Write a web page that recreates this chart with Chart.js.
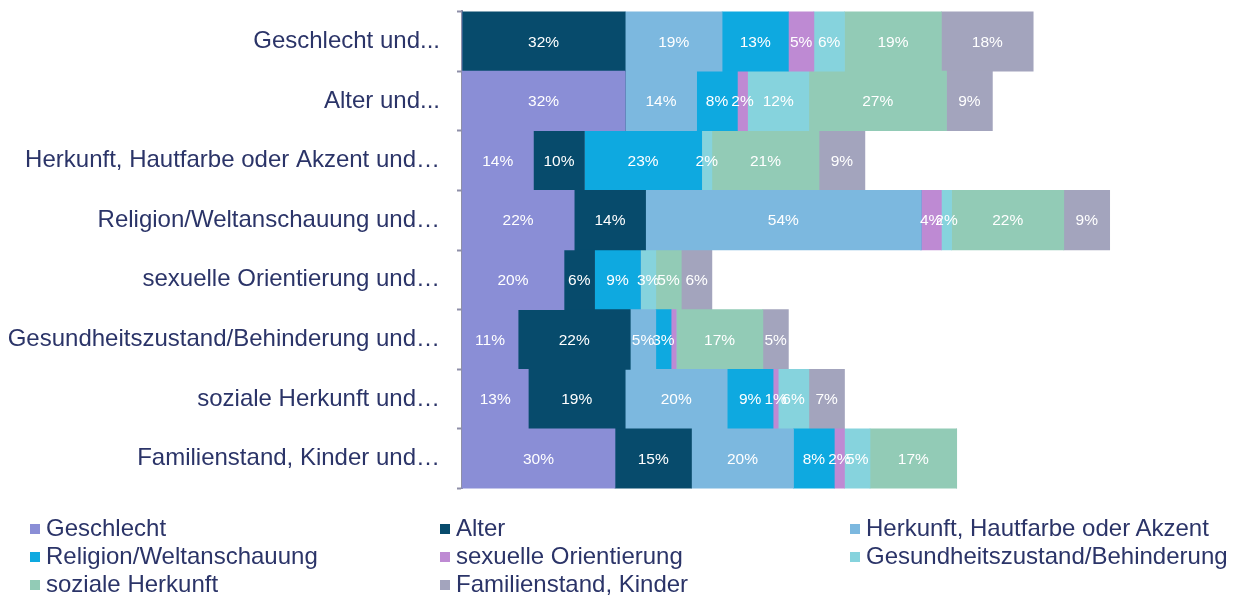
<!DOCTYPE html>
<html lang="de">
<head>
<meta charset="utf-8">
<script src="https://cdn.jsdelivr.net/npm/chart.js@4/dist/chart.umd.min.js"></script>
<style>
    html, body { margin: 0; padding: 0; background: #fff; overflow: hidden; }
    #wrap { position: relative; width: 1243px; height: 598px; overflow: hidden; }
    #box { position: absolute; left: 0; top: -20px; width: 1243px; height: 540px; }
    #legend {
        position: absolute; left: 30px; top: 514px;
        display: grid; grid-template-columns: 410px 410px 400px;
        font-family: "Liberation Sans", Arial, sans-serif; font-size: 24px;
        color: #2b3468; line-height: 28px; white-space: nowrap;
    }
    #legend span.sw { display: inline-block; width: 10px; height: 10px; margin-right: 6px; vertical-align: 2px; }
</style>
</head>
<body>
<div id="wrap">
    <div id="box"><canvas id="chart"></canvas></div>
    <div id="legend"></div>
</div>
<script>
// rows: "X und..." combinations
const categories = [
    'Geschlecht und...',
    'Alter und...',
    'Herkunft, Hautfarbe oder Akzent und…',
    'Religion/Weltanschauung und…',
    'sexuelle Orientierung und…',
    'Gesundheitszustand/Behinderung und…',
    'soziale Herkunft und…',
    'Familienstand, Kinder und…'
];

const seriesNames = [
    'Geschlecht', 'Alter', 'Herkunft, Hautfarbe oder Akzent', 'Religion/Weltanschauung',
    'sexuelle Orientierung', 'Gesundheitszustand/Behinderung', 'soziale Herkunft', 'Familienstand, Kinder'
];

// percentages per row
const geschlecht = [0, 32, 14, 22, 20, 11, 13, 30];
const alter      = [32, 0, 10, 14, 6, 22, 19, 15];
const herkunft   = [19, 14, 0, 54, 0, 5, 20, 20];
const religion   = [13, 8, 23, 0, 9, 3, 9, 8];
const sexuelle   = [5, 2, 0, 4, 0, 1, 1, 2];
const gesundheit = [6, 12, 2, 2, 3, 0, 6, 5];
const soziale    = [19, 27, 21, 22, 5, 17, 0, 17];
const familien   = [18, 9, 9, 9, 6, 5, 7, 0];

const colors = ['#8a8ed6', '#074b6c', '#7cb8df', '#0ea9e0', '#be8ad3', '#86d3dd', '#92cbb6', '#a3a4bd'];

// label hidden under the neighbouring one (row index, series index)
const hiddenLabels = [[5, 4]];

const values = [geschlecht, alter, herkunft, religion, sexuelle, gesundheit, soziale, familien];

const FONT = '"Liberation Sans", Arial, sans-serif';

const barLabels = {
    id: 'barLabels',
    afterDatasetsDraw(chart) {
        const ctx = chart.ctx;
        ctx.save();
        ctx.font = '15.5px ' + FONT;
        ctx.fillStyle = '#ffffff';
        ctx.textAlign = 'center';
        ctx.textBaseline = 'middle';
        chart.data.datasets.forEach((ds, di) => {
            const meta = chart.getDatasetMeta(di);
            meta.data.forEach((bar, i) => {
                const v = ds.data[i];
                if (!v) return;
                if (hiddenLabels.some(h => h[0] === i && h[1] === di)) return;
                const x = (bar.x + bar.base) / 2;
                ctx.fillText(v + '%', x, bar.y + 1);
            });
        });
        ctx.restore();
    }
};

const chart = new Chart(document.getElementById('chart'), {
    type: 'bar',
    data: {
        labels: categories,
        datasets: seriesNames.map((name, i) => ({
            label: name,
            data: values[i],
            backgroundColor: colors[i],
            borderWidth: 0,
            barPercentage: 1,
            categoryPercentage: 1
        }))
    },
    options: {
        indexAxis: 'y',
        responsive: true,
        maintainAspectRatio: false,
        animation: false,
        layout: {
            padding: { top: 10, right: 16, bottom: 9, left: 0 }
        },
        scales: {
            x: {
                stacked: true,
                display: false,
                min: 0,
                max: 150
            },
            y: {
                stacked: true,
                afterFit: (s) => { s.width = 462; },
                border: { display: true, color: '#8e8fa8', width: 2 },
                grid: {
                    offset: true,
                    drawOnChartArea: false,
                    tickLength: 5,
                    tickWidth: 2,
                    color: '#8e8fa8'
                },
                ticks: {
                    padding: 17,
                    color: '#2b3468',
                    font: { family: FONT, size: 24 }
                }
            }
        },
        plugins: {
            legend: { display: false },
            tooltip: { enabled: false }
        }
    },
    plugins: [barLabels]
});

// legend laid out in three columns
const legend = document.getElementById('legend');
seriesNames.forEach((name, i) => {
    const item = document.createElement('div');
    const sw = document.createElement('span');
    sw.className = 'sw';
    sw.style.background = colors[i];
    item.appendChild(sw);
    item.appendChild(document.createTextNode(name));
    legend.appendChild(item);
});
</script>
</body>
</html>
